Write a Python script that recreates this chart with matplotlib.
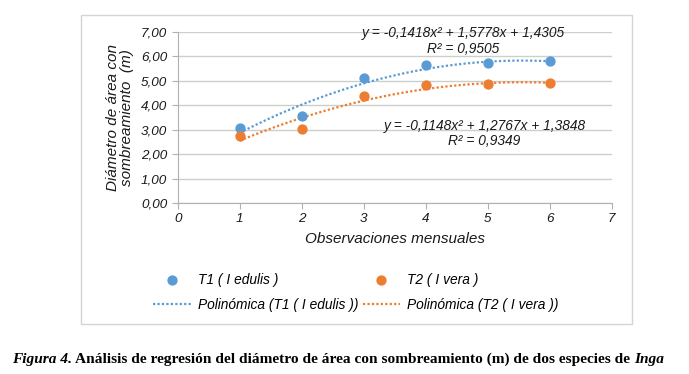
import matplotlib.pyplot as plt
import numpy as np
from matplotlib.patches import Rectangle
from matplotlib.ticker import FuncFormatter

plt.rcParams["font.family"] = ["Liberation Sans", "DejaVu Sans"]

months = [1, 2, 3, 4, 5, 6]
t1_edulis = [3.08, 3.57, 5.12, 5.64, 5.71, 5.80]
t2_vera = [2.75, 3.02, 4.36, 4.81, 4.86, 4.90]

# coeficientes del ajuste polinomico (a, b, c) tal como aparecen en el grafico
t1_coef = [-0.1418, 1.5778, 1.4305]
t2_coef = [-0.1148, 1.2767, 1.3848]
t1_r2 = 0.9505
t2_r2 = 0.9349

BLUE = "#5B9BD5"
ORANGE = "#ED7D31"
FS = 8.4


def comma(v, decimals=4):
    return f"{v:.{decimals}f}".replace(".", ",")


def equation(coef, r2):
    a, b, c = coef
    sign_b = "+" if b >= 0 else "-"
    sign_c = "+" if c >= 0 else "-"
    eq = f"y = {comma(a)}x² {sign_b} {comma(abs(b))}x {sign_c} {comma(abs(c))}"
    return eq + "\n" + f"R² = {comma(r2)}"


fig = plt.figure(figsize=(6.89, 3.74), dpi=100)
fig.patches.append(Rectangle((80.5 / 689, 1 - 323.5 / 374), (631.5 - 80.5) / 689, (323.5 - 14.5) / 374,
                             transform=fig.transFigure, fill=False, edgecolor="#d4d4d4", linewidth=1))

ax = fig.add_axes([177.7 / 689, 1 - 203 / 374, (611.7 - 177.7) / 689, (203 - 31.7) / 374])

xs = np.linspace(1, 6, 100)
line1, = ax.plot(xs, np.polyval(t1_coef, xs), linestyle=(0, (1, 1)), color=BLUE, linewidth=1.6, zorder=2)
line2, = ax.plot(xs, np.polyval(t2_coef, xs), linestyle=(0, (1, 1)), color=ORANGE, linewidth=1.6, zorder=2)
pts1, = ax.plot(months, t1_edulis, "o", color=BLUE, markersize=6.4, zorder=3)
pts2, = ax.plot(months, t2_vera, "o", color=ORANGE, markersize=6.4, zorder=3)

ax.set_xlim(0, 7)
ax.set_ylim(0, 7)
ax.set_xticks(range(0, 8))
ax.set_yticks(range(0, 8))
ax.yaxis.set_major_formatter(FuncFormatter(lambda v, p: comma(v, 2)))
ax.grid(axis="y", color="#c9d1c9", linewidth=1)
ax.set_axisbelow(True)
for side in ["top", "right"]:
    ax.spines[side].set_visible(False)
for side in ["left", "bottom"]:
    ax.spines[side].set_color("#b0b0b0")
    ax.spines[side].set_linewidth(0.8)
ax.tick_params(colors="#b0b0b0", labelcolor="#1a1a1a", labelsize=FS + 1.3, length=4, width=0.8)
for lab in ax.get_xticklabels() + ax.get_yticklabels():
    lab.set_style("italic")

ax.set_xlabel("Observaciones mensuales", fontsize=FS + 2.6, style="italic", color="#1a1a1a", labelpad=5)
ax.set_ylabel("Diámetro de área con\nsombreamiento  (m)", fontsize=FS + 2.6, style="italic",
              color="#1a1a1a", labelpad=5, linespacing=1.0)

ax.text(4.6, 6.62, equation(t1_coef, t1_r2), ha="center", va="center", fontsize=FS + 1.5,
        style="italic", color="#1a1a1a", linespacing=1.1)
ax.text(4.95, 2.83, equation(t2_coef, t2_r2), ha="center", va="center", fontsize=FS + 1.5,
        style="italic", color="#1a1a1a", linespacing=1.1)

handles = [pts1, line1, pts2, line2]
labels = ["T1 ( I edulis )", "Polinómica (T1 ( I edulis ))", "T2 ( I vera )", "Polinómica (T2 ( I vera ))"]
leg = fig.legend(handles, labels, ncol=2, loc="center", bbox_to_anchor=(356 / 689, 1 - 292.5 / 374),
                 frameon=False, handlelength=2.75, handletextpad=0.5, columnspacing=0.3,
                 labelspacing=0.75, prop={"size": FS + 1.5, "style": "italic"})

# leyenda de la figura con estilos mezclados
serif = ["Liberation Serif", "DejaVu Serif"]
parts = [("Figura 4.", "italic"), (" Análisis de regresión del diámetro de área con sombreamiento (m) de dos especies de ", "normal"),
         ("Inga", "italic")]
fig.canvas.draw()
renderer = fig.canvas.get_renderer()
x = 12
for txt, st in parts:
    t = fig.text(x / 689, 1 - 359 / 374, txt, fontsize=11.1, weight="bold", style=st, family=serif,
                 ha="left", va="center", color="black")
    bb = t.get_window_extent(renderer)
    x += bb.width

fig.savefig("out.png", dpi=100)
